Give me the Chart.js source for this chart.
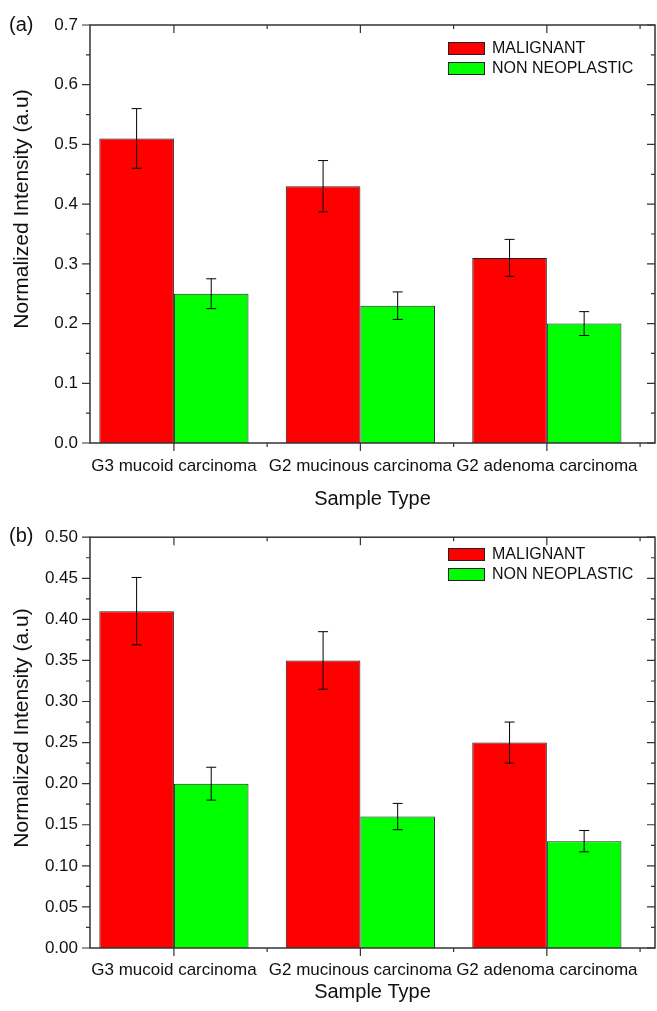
<!DOCTYPE html>
<html lang="en">
  <head>
    <meta charset="UTF-8" />
    <meta name="viewport" content="width=device-width, initial-scale=1.0" />
    <title>Normalized Intensity by Sample Type</title>
    <style>
      * {
        margin: 0;
        padding: 0;
        box-sizing: border-box;
      }

      body {
        width: 657px;
        height: 1011px;
        background: #fff;
        overflow: hidden;
      }

      .panel {
        position: absolute;
        left: 0;
        width: 657px;
      }

      #panelA {
        top: 0;
        height: 515px;
      }

      #panelB {
        top: 515px;
        height: 496px;
      }
    </style>
  </head>
  <body>
    <div class="panel" id="panelA"><canvas id="chartA"></canvas></div>
    <div class="panel" id="panelB"><canvas id="chartB"></canvas></div>

    <script src="https://cdn.jsdelivr.net/npm/chart.js"></script>
    <script>
      const categories = [
        "G3 mucoid carcinoma",
        "G2 mucinous carcinoma",
        "G2 adenoma carcinoma",
      ];
      const seriesNames = ["MALIGNANT", "NON NEOPLASTIC"];
      const seriesColors = ["#ff0000", "#00ff00"];

      // panel (a)
      const malignantA = [0.51, 0.43, 0.31];
      const malignantErrA = [0.05, 0.043, 0.031];
      const nonNeoA = [0.25, 0.23, 0.2];
      const nonNeoErrA = [0.025, 0.023, 0.02];
      const yTicksA = [0.0, 0.1, 0.2, 0.3, 0.4, 0.5, 0.6, 0.7];

      // panel (b)
      const malignantB = [0.41, 0.35, 0.25];
      const malignantErrB = [0.041, 0.035, 0.025];
      const nonNeoB = [0.2, 0.16, 0.13];
      const nonNeoErrB = [0.02, 0.016, 0.013];
      const yTicksB = [
        0.0, 0.05, 0.1, 0.15, 0.2, 0.25, 0.3, 0.35, 0.4, 0.45, 0.5,
      ];

      const FONT = "'Liberation Sans', Arial, sans-serif";
      const INK = "#111";
      Chart.defaults.font.family = FONT;
      Chart.defaults.color = INK;

      function toPoints(values) {
        return values.map((v, i) => ({ x: i + 1, y: v }));
      }

      function makePanel(canvasId, cfg) {
        // frame, Origin-style ticks, error bars, legend and labels
        const decorations = {
          id: "decorations",
          afterDatasetsDraw(chart) {
            const ctx = chart.ctx;
            const { left, right, top, bottom } = chart.chartArea;
            const xs = chart.scales.x;
            const ys = chart.scales.y;
            ctx.save();

            // error bars
            ctx.strokeStyle = "#000";
            ctx.lineWidth = 1;
            chart.data.datasets.forEach((ds, d) => {
              const meta = chart.getDatasetMeta(d);
              meta.data.forEach((bar, i) => {
                const v = ds.data[i].y;
                const e = cfg.errors[d][i];
                const y1 = ys.getPixelForValue(v + e);
                const y2 = ys.getPixelForValue(v - e);
                ctx.beginPath();
                ctx.moveTo(bar.x, y1);
                ctx.lineTo(bar.x, y2);
                ctx.moveTo(bar.x - 5, y1);
                ctx.lineTo(bar.x + 5, y1);
                ctx.moveTo(bar.x - 5, y2);
                ctx.lineTo(bar.x + 5, y2);
                ctx.stroke();
              });
            });

            // frame
            ctx.strokeStyle = "#333";
            ctx.lineWidth = 1.5;
            ctx.strokeRect(left, top, right - left, bottom - top);

            // y ticks (major + minor halfway)
            ctx.lineWidth = 1.2;
            ctx.beginPath();
            cfg.yTicks.forEach((v, i) => {
              const py = ys.getPixelForValue(v);
              ctx.moveTo(left - 8, py);
              ctx.lineTo(left, py);
              ctx.moveTo(right - 8, py);
              ctx.lineTo(right, py);
              if (i < cfg.yTicks.length - 1) {
                const pm = ys.getPixelForValue((v + cfg.yTicks[i + 1]) / 2);
                ctx.moveTo(left - 4, pm);
                ctx.lineTo(left, pm);
                ctx.moveTo(right - 4, pm);
                ctx.lineTo(right, pm);
              }
            });
            // x ticks: major at categories, minor between them
            categories.forEach((c, i) => {
              const px = xs.getPixelForValue(i + 1);
              ctx.moveTo(px, bottom);
              ctx.lineTo(px, bottom + 8);
              ctx.moveTo(px, top);
              ctx.lineTo(px, top + 8);
              const pm = xs.getPixelForValue(i + 1.5);
              if (pm < right) {
                ctx.moveTo(pm, bottom);
                ctx.lineTo(pm, bottom + 4);
                ctx.moveTo(pm, top);
                ctx.lineTo(pm, top + 4);
              }
            });
            ctx.stroke();

            // legend
            ctx.font = "16px " + FONT;
            ctx.textBaseline = "middle";
            ctx.textAlign = "left";
            chart.data.datasets.forEach((ds, d) => {
              const by = cfg.legendTop + d * 20;
              ctx.fillStyle = ds.backgroundColor;
              ctx.fillRect(448, by, 37, 13);
              ctx.strokeStyle = "#222";
              ctx.lineWidth = 1;
              ctx.strokeRect(448.5, by + 0.5, 36, 12);
              ctx.fillStyle = INK;
              ctx.fillText(ds.label, 492, by + 7);
            });

            // panel label
            ctx.font = "20px " + FONT;
            ctx.fillText(cfg.panel, 9, cfg.panelY);

            // y axis title
            ctx.save();
            ctx.translate(22, cfg.yTitleY);
            ctx.rotate(-Math.PI / 2);
            ctx.textAlign = "center";
            ctx.font = "21px " + FONT;
            ctx.fillText("Normalized Intensity (a.u)", 0, 0);
            ctx.restore();

            ctx.restore();
          },
        };

        return new Chart(document.getElementById(canvasId), {
          type: "bar",
          data: {
            datasets: [
              {
                label: seriesNames[0],
                data: toPoints(cfg.malignant),
                backgroundColor: seriesColors[0],
                borderColor: "#222",
                borderWidth: 1,
                categoryPercentage: 0.8,
                barPercentage: 1.0,
              },
              {
                label: seriesNames[1],
                data: toPoints(cfg.nonNeo),
                backgroundColor: seriesColors[1],
                borderColor: "#222",
                borderWidth: 1,
                categoryPercentage: 0.8,
                barPercentage: 1.0,
              },
            ],
          },
          options: {
            responsive: true,
            maintainAspectRatio: false,
            animation: false,
            layout: {
              padding: { left: 0, right: 2, top: cfg.top, bottom: 0 },
            },
            plugins: {
              legend: { display: false },
              tooltip: { enabled: false },
            },
            scales: {
              x: {
                type: "linear",
                offset: false,
                min: 0.55,
                max: 3.58,
                afterBuildTicks: (s) => {
                  s.ticks = categories.map((c, i) => ({ value: i + 1 }));
                },
                afterFit: (s) => {
                  s.height = cfg.xHeight;
                },
                grid: { display: false, drawTicks: false, offset: false },
                border: { display: false },
                ticks: {
                  autoSkip: false,
                  maxRotation: 0,
                  minRotation: 0,
                  padding: cfg.xPad,
                  font: { size: 17 },
                  color: INK,
                  callback: (v) => categories[Math.round(v) - 1],
                },
                title: {
                  display: true,
                  text: "Sample Type",
                  font: { size: 20 },
                  color: INK,
                  padding: { top: 0, bottom: cfg.xTitlePad },
                },
              },
              y: {
                min: 0,
                max: cfg.yTicks[cfg.yTicks.length - 1],
                afterBuildTicks: (s) => {
                  s.ticks = cfg.yTicks.map((v) => ({ value: v }));
                },
                afterFit: (s) => {
                  s.width = 90;
                },
                grid: { display: false, drawTicks: false },
                border: { display: false },
                ticks: {
                  padding: 12,
                  font: { size: 17 },
                  color: INK,
                  callback: (v) => v.toFixed(cfg.decimals),
                },
              },
            },
          },
          plugins: [decorations],
        });
      }

      makePanel("chartA", {
        panel: "(a)",
        panelY: 25,
        malignant: malignantA,
        nonNeo: nonNeoA,
        errors: [malignantErrA, nonNeoErrA],
        yTicks: yTicksA,
        decimals: 1,
        top: 25,
        xHeight: 72,
        xPad: 13,
        xTitlePad: 4,
        legendTop: 42,
        yTitleY: 209,
      });

      makePanel("chartB", {
        panel: "(b)",
        panelY: 21,
        malignant: malignantB,
        nonNeo: nonNeoB,
        errors: [malignantErrB, nonNeoErrB],
        yTicks: yTicksB,
        decimals: 2,
        top: 19,
        xHeight: 63,
        xPad: 12,
        xTitlePad: 7,
        legendTop: 33,
        yTitleY: 213,
      });
    </script>
  </body>
</html>
